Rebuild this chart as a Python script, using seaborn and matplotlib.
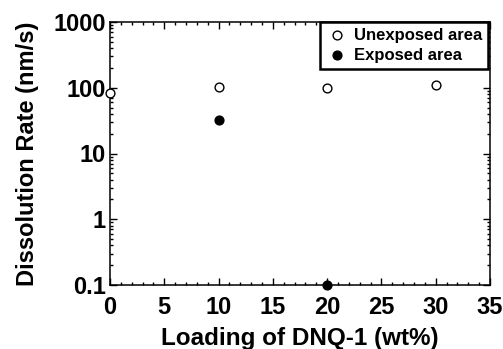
import numpy as np
import pandas as pd
import matplotlib
matplotlib.use("Agg")
import matplotlib.pyplot as plt
import seaborn as sns
from matplotlib.ticker import LogLocator, MultipleLocator, NullFormatter

# data
unexp_x = [0, 10, 20, 30]
unexp_y = [83, 104, 100, 110]
exp_x = [10, 20]
exp_y = [32, 0.1]

sns.set_style("ticks")
plt.rcParams['font.family'] = ['Liberation Sans', 'DejaVu Sans']
plt.rcParams['font.weight'] = 'bold'
plt.rcParams['text.color'] = 'black'
plt.rcParams['axes.labelcolor'] = 'black'
plt.rcParams['xtick.color'] = 'black'
plt.rcParams['ytick.color'] = 'black'

df = pd.concat([
    pd.DataFrame({'x': unexp_x, 'y': unexp_y, 'kind': 'Unexposed area'}),
    pd.DataFrame({'x': exp_x, 'y': exp_y, 'kind': 'Exposed area'}),
])

fig = plt.figure(figsize=(5.03, 3.49), dpi=100)
ax = fig.add_axes([110/503, 1-285/349, 380/503, 263/349])

u = df[df['kind'] == 'Unexposed area']
e = df[df['kind'] == 'Exposed area']
sns.scatterplot(data=u, x='x', y='y', ax=ax, marker='o', s=40, facecolor='white',
                edgecolor='black', linewidth=1.0, label='Unexposed area', clip_on=False, zorder=3)
sns.scatterplot(data=e, x='x', y='y', ax=ax, marker='o', s=40, color='black',
                edgecolor='black', linewidth=1.0, label='Exposed area', clip_on=False, zorder=3)

ax.set_yscale('log')
ax.set_xlim(0, 35)
ax.set_ylim(0.1, 1000)
ax.xaxis.set_major_locator(MultipleLocator(5))
ax.xaxis.set_minor_locator(MultipleLocator(1))
ax.set_yticks([0.1, 1, 10, 100, 1000])
ax.set_yticklabels(['0.1', '1', '10', '100', '1000'])
ax.yaxis.set_minor_locator(LogLocator(base=10, subs=np.arange(2, 10)))
ax.yaxis.set_minor_formatter(NullFormatter())

ax.tick_params(which='both', direction='in', top=True, right=True, width=1, color='black')
ax.tick_params(which='major', length=5, labelsize=17, pad=3)
ax.tick_params(which='minor', length=2.5)
ax.tick_params(axis='x', which='major', pad=8)
for sp in ax.spines.values():
    sp.set_linewidth(1.1)
    sp.set_color('black')

ax.set_xlabel('Loading of DNQ-1 (wt%)', fontsize=17.5, fontweight='bold', labelpad=6)
ax.set_ylabel('Dissolution Rate (nm/s)', fontsize=17, fontweight='bold', labelpad=10)

leg = ax.legend(loc='upper right', fontsize=12, frameon=True, fancybox=False,
                borderaxespad=0, handletextpad=0.3, labelspacing=0.3,
                borderpad=0.35, handlelength=1.4, bbox_to_anchor=(0.995, 1.0))
leg.get_frame().set_edgecolor('black')
leg.get_frame().set_linewidth(1.8)
leg.get_frame().set_alpha(1)
for t in leg.get_texts():
    t.set_fontweight('bold')

fig.savefig('out.png', dpi=100)
